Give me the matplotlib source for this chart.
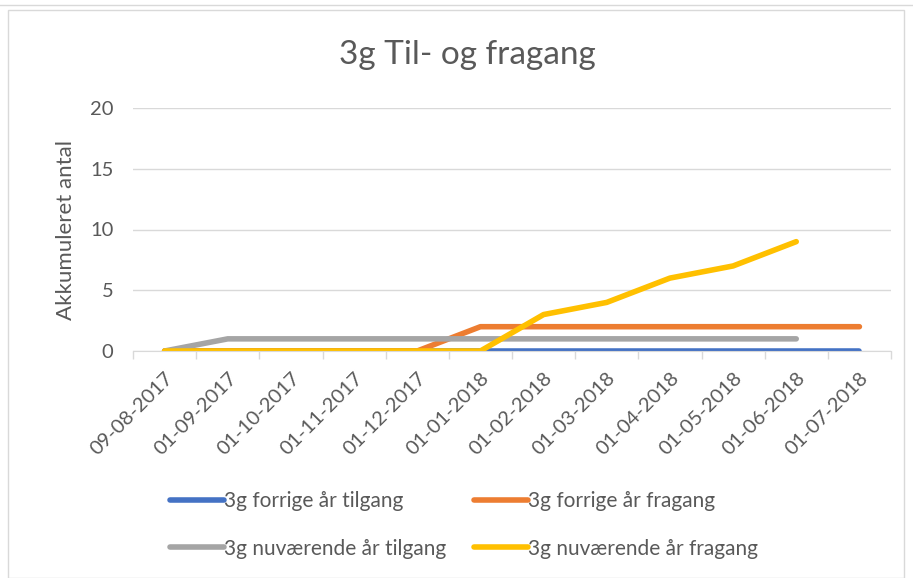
import matplotlib
matplotlib.use("Agg")
import matplotlib.pyplot as plt
from matplotlib.patches import Rectangle
from matplotlib.lines import Line2D

dates = ["09-08-2017", "01-09-2017", "01-10-2017", "01-11-2017", "01-12-2017",
         "01-01-2018", "01-02-2018", "01-03-2018", "01-04-2018", "01-05-2018",
         "01-06-2018", "01-07-2018"]
forrige_tilgang = [0, 0, 0, 0, 0, 0, 0, 0, 0, 0, 0, 0]
forrige_fragang = [0, 0, 0, 0, 0, 2, 2, 2, 2, 2, 2, 2]
nu_tilgang = [0, 1, 1, 1, 1, 1, 1, 1, 1, 1, 1]
nu_fragang = [0, 0, 0, 0, 0, 0, 3, 4, 6, 7, 9]

series = [
    ("3g forrige år tilgang", forrige_tilgang, "#4472C4"),
    ("3g forrige år fragang", forrige_fragang, "#ED7D31"),
    ("3g nuværende år tilgang", nu_tilgang, "#A5A5A5"),
    ("3g nuværende år fragang", nu_fragang, "#FFC000"),
]

plt.rcParams['font.family'] = ['Lato', 'DejaVu Sans']
txt = "#595959"

fig = plt.figure(figsize=(9.13, 5.78), dpi=100)
W, H = 913, 578
ax = fig.add_axes([133 / W, 1 - 351 / H, (891 - 133) / W, (351 - 108) / H])

for name, vals, col in series:
    ax.plot(range(len(vals)), vals, color=col, lw=4, solid_capstyle='round',
            solid_joinstyle='round', label=name)

ax.set_xlim(-0.5, len(dates) - 0.5)
ax.set_ylim(0, 20)
ax.set_yticks([0, 5, 10, 15, 20])
ax.set_xticks(range(len(dates)))
ax.set_xticklabels(dates, rotation=45, ha='right', rotation_mode='anchor')
ax.set_xticks([i - 0.5 for i in range(len(dates) + 1)], minor=True)
ax.tick_params(axis='x', which='major', length=0, pad=13, labelsize=14.5, labelcolor=txt)
ax.tick_params(axis='x', which='minor', length=6, color='#D9D9D9', width=1)
ax.tick_params(axis='y', length=0, pad=14, labelsize=14.5, labelcolor=txt)
ax.grid(axis='y', color='#D9D9D9', lw=1)
ax.set_axisbelow(True)
for s in ['top', 'right', 'left']:
    ax.spines[s].set_visible(False)
ax.spines['bottom'].set_color('#D9D9D9')
ax.set_ylabel("Akkumuleret antal", fontsize=16, color=txt, labelpad=10)

fig.text(467 / W, 1 - 55 / H, "3g Til- og fragang", ha='center', va='center',
         fontsize=24, color=txt)

handles = [Line2D([0], [0], color=c, lw=4, solid_capstyle='round') for _, _, c in series]
labels = [n for n, _, _ in series]
order = [0, 2, 1, 3]
fig.legend([handles[i] for i in order], [labels[i] for i in order], ncol=2, loc='center',
           bbox_to_anchor=(464 / W, 1 - 525 / H),
           frameon=False, fontsize=15, labelcolor=txt, handlelength=2.6,
           handletextpad=0.0, columnspacing=1.3, labelspacing=1.3)

fig.patches.append(Rectangle((8 / W, 0), (904 - 8) / W, 1 - 10 / H, transform=fig.transFigure,
                             fill=False, edgecolor='#D9D9D9', lw=1))
fig.add_artist(Line2D([0, 1], [1 - 5 / H, 1 - 5 / H], transform=fig.transFigure,
                      color='#D9D9D9', lw=1))

fig.savefig("out.png", dpi=100)
